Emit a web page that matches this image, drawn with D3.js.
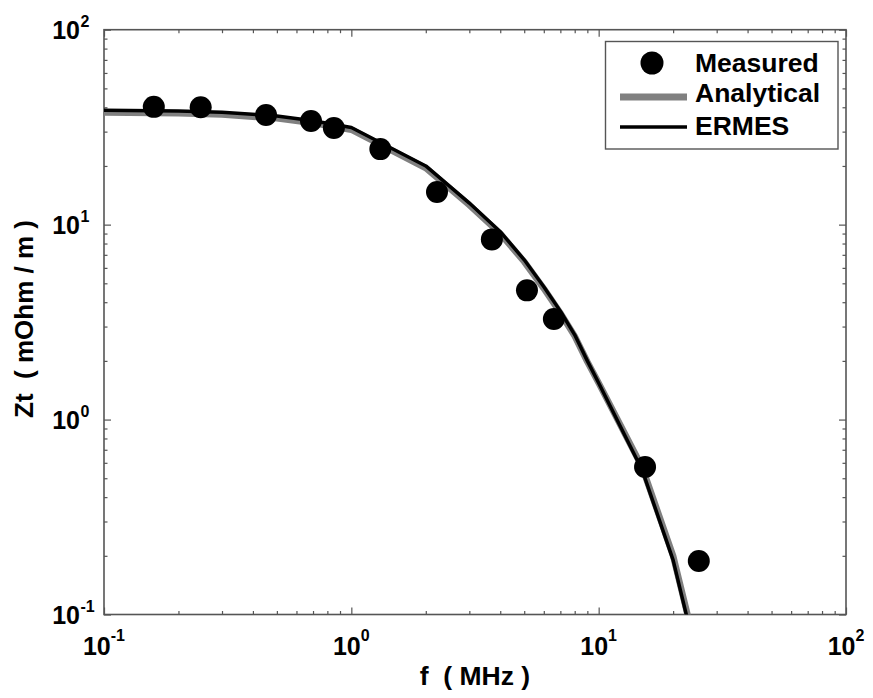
<!DOCTYPE html>
<html><head><meta charset="utf-8">
<script src="https://cdn.jsdelivr.net/npm/d3@7"></script>
<style>
html,body{margin:0;padding:0;background:#fff;}
text{font-family:"Liberation Sans",Arial,sans-serif;font-weight:bold;fill:#000;}
</style></head>
<body>
<svg id="chart" width="873" height="698"></svg>
<script>
// ---- data ----
const measuredF = [0.159, 0.246, 0.452, 0.687, 0.85, 1.31, 2.22, 3.70, 5.13, 6.59, 15.4, 25.4];
const measuredZ = [40.2, 40.0, 36.5, 34.0, 31.3, 24.4, 14.7, 8.4, 4.6, 3.28, 0.571, 0.188];
const curveF = [0.1, 0.2, 0.3, 0.5, 0.7, 1, 2, 3, 4, 5, 6, 7, 8, 9, 10, 15, 20, 25];
const ermesZ = [38.6, 38.3, 37.7, 36.1, 34.1, 31.5, 20.0, 12.9, 9.2, 6.6, 4.8, 3.6, 2.72, 2.0, 1.54, 0.55, 0.19, 0.059];
const analyticalZ = [37.6, 37.3, 36.7, 35.1, 33.2, 30.7, 19.5, 12.6, 9.0, 6.45, 4.7, 3.52, 2.68, 1.98, 1.54, 0.57, 0.2, 0.063];
const xTickExps = [-1, 0, 1, 2];
const yTickExps = [-1, 0, 1, 2];
const legendLabels = ["Measured", "Analytical", "ERMES"];
const xTitle = "f  ( MHz )";
const yTitle = "Zt  ( mOhm / m )";

// ---- layout ----
const L = 104, R = 846, T = 29.7, B = 614.5;
const svg = d3.select("#chart");
const x = d3.scaleLog().domain([0.1, 100]).range([L, R]);
const y = d3.scaleLog().domain([0.1, 100]).range([B, T]);

function minorTicks(exps){
  const out = [];
  for (let i = 0; i < exps.length - 1; i++)
    for (let k = 2; k <= 9; k++) out.push(k * Math.pow(10, exps[i]));
  return out;
}
const majorX = xTickExps.map(e => Math.pow(10, e));
const majorY = yTickExps.map(e => Math.pow(10, e));
const frameColor = "#555";

// clip
svg.append("clipPath").attr("id","clip").append("rect")
  .attr("x", L).attr("y", T).attr("width", R - L).attr("height", B - T);

// axes with inward ticks
function styleAxis(g){
  g.select(".domain").remove();
  g.selectAll(".tick line").attr("stroke", frameColor).attr("stroke-width", 1.2);
}
const axes = [
  [d3.axisBottom(x), B, 0, "x"], [d3.axisTop(x), T, 0, "x"],
  [d3.axisLeft(y), 0, L, "y"], [d3.axisRight(y), 0, R, "y"]
];
axes.forEach(([ax, ty, tx, dim]) => {
  const minor = minorTicks(dim === "x" ? xTickExps : yTickExps);
  const major = dim === "x" ? majorX : majorY;
  svg.append("g").attr("transform", `translate(${tx},${ty})`)
    .call(ax.tickValues(minor).tickSize(-3.5).tickFormat("")).call(styleAxis);
  svg.append("g").attr("transform", `translate(${tx},${ty})`)
    .call(ax.tickValues(major).tickSize(-7).tickFormat("")).call(styleAxis);
});

// frame
svg.append("rect").attr("x", L).attr("y", T).attr("width", R - L).attr("height", B - T)
  .attr("fill", "none").attr("stroke", frameColor).attr("stroke-width", 1.6);

// tick labels
xTickExps.forEach(e => {
  const t = svg.append("text").attr("x", x(Math.pow(10, e))).attr("y", 655)
    .attr("text-anchor", "middle").style("font-size", "25px");
  t.append("tspan").text("10");
  t.append("tspan").attr("dy", -14).style("font-size", "16px").text(String(e));
});
yTickExps.forEach(e => {
  const yy = y(Math.pow(10, e));
  svg.append("text").attr("x", 80).attr("y", yy + 9).attr("text-anchor", "end")
    .style("font-size", "25px").text("10");
  svg.append("text").attr("x", 80.5).attr("y", yy - 3).attr("text-anchor", "start")
    .style("font-size", "16px").text(String(e));
});

// axis titles
svg.append("text").attr("x", (L + R) / 2).attr("y", 685).attr("text-anchor", "middle")
  .style("font-size", "26.5px").style("white-space", "pre").attr("xml:space","preserve").text(xTitle);
svg.append("text").attr("transform", `translate(33,319) rotate(-90)`)
  .attr("text-anchor", "middle").style("font-size", "26px").style("white-space", "pre")
  .attr("xml:space","preserve").text(yTitle);

// lines
const line = vals => d3.line().x((d, i) => x(curveF[i])).y(d => y(d))(vals);
const plot = svg.append("g").attr("clip-path", "url(#clip)");
plot.append("path").attr("d", line(analyticalZ)).attr("fill", "none")
  .attr("stroke", "#808080").attr("stroke-width", 6.5).attr("stroke-linejoin", "round");
plot.append("path").attr("d", line(ermesZ)).attr("fill", "none")
  .attr("stroke", "#000").attr("stroke-width", 3.5).attr("stroke-linejoin", "round");
plot.selectAll("circle.m").data(measuredF).enter().append("circle").attr("class", "m")
  .attr("cx", d => x(d)).attr("cy", (d, i) => y(measuredZ[i])).attr("r", 11).attr("fill", "#000");

// legend
const lg = svg.append("g");
lg.append("rect").attr("x", 605.5).attr("y", 41.5).attr("width", 232.5).attr("height", 107.5)
  .attr("fill", "#fff").attr("stroke", frameColor).attr("stroke-width", 1.4);
lg.append("circle").attr("cx", 652).attr("cy", 63).attr("r", 11.5).attr("fill", "#000");
lg.append("line").attr("x1", 620).attr("x2", 687).attr("y1", 97).attr("y2", 97)
  .attr("stroke", "#808080").attr("stroke-width", 7);
lg.append("line").attr("x1", 620).attr("x2", 687).attr("y1", 127).attr("y2", 127)
  .attr("stroke", "#000").attr("stroke-width", 3.5);
[72, 102, 135].forEach((by, i) => {
  lg.append("text").attr("x", 695).attr("y", by).style("font-size", "26.5px").text(legendLabels[i]);
});
</script>
</body></html>
